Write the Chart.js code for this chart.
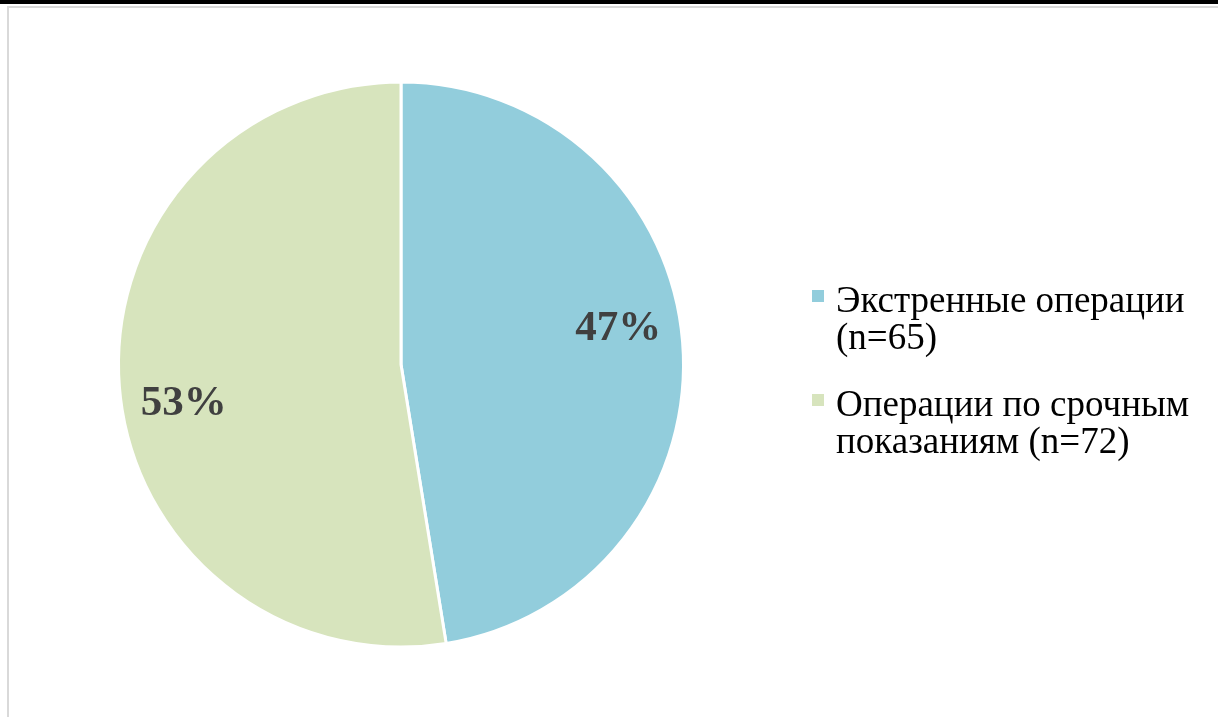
<!DOCTYPE html>
<html lang="ru">
<head>
<meta charset="utf-8">
<title>Операции</title>
<script src="https://cdn.jsdelivr.net/npm/chart.js@4.4.0/dist/chart.umd.min.js"></script>
<style>
  html, body { margin: 0; padding: 0; background: #fff; }
  body { width: 1218px; height: 717px; position: relative; overflow: hidden; }
  .topline { position: absolute; left: 0; top: 0; width: 1218px; height: 4px; background: #000; }
  .frame { position: absolute; left: 7px; top: 6px; right: 0; bottom: 0;
           border-top: 2px solid #d9d9d9; border-left: 2px solid #d9d9d9; }
  .wrap { position: absolute; left: 0; top: 0; width: 1218px; height: 717px; }
</style>
</head>
<body>
<div class="topline"></div>
<div class="frame"></div>
<div class="wrap"><canvas id="pieChart"></canvas></div>
<script>
  // data
  const categories = [
    ["Экстренные операции", "(n=65)"],
    ["Операции по срочным", "показаниям (n=72)"]
  ];
  const counts = [65, 72];
  const colors = ["#92cddc", "#d7e4bd"];

  // percentage labels inside the slices
  const sliceLabels = {
    id: "sliceLabels",
    afterDatasetsDraw(chart) {
      const ctx = chart.ctx;
      const meta = chart.getDatasetMeta(0);
      const total = counts.reduce((a, b) => a + b, 0);
      ctx.save();
      ctx.font = "bold 43px 'Liberation Serif', 'Times New Roman', serif";
      ctx.fillStyle = "#404040";
      ctx.textAlign = "center";
      ctx.textBaseline = "middle";
      meta.data.forEach((arc, i) => {
        const p = arc.getProps(["x", "y", "startAngle", "endAngle", "outerRadius"], true);
        const mid = (p.startAngle + p.endAngle) / 2 - 0.091;
        const r = p.outerRadius * 0.78;
        const txt = Math.round((counts[i] / total) * 100) + "%";
        ctx.fillText(txt, p.x + Math.cos(mid) * r, p.y + Math.sin(mid) * r + 2);
      });
      ctx.restore();
    }
  };

  // legend on the right, two lines per entry
  const sideLegend = {
    id: "sideLegend",
    afterDraw(chart) {
      const ctx = chart.ctx;
      const x0 = 812;
      let y = 312;
      ctx.save();
      ctx.font = "37px 'Liberation Serif', 'Times New Roman', serif";
      ctx.textAlign = "left";
      ctx.textBaseline = "alphabetic";
      categories.forEach((lines, i) => {
        ctx.fillStyle = colors[i];
        ctx.fillRect(x0, y - 22, 12, 12);
        ctx.fillStyle = "#000";
        lines.forEach((line, j) => {
          ctx.fillText(line, x0 + 24, y + j * 37);
        });
        y += 104;
      });
      ctx.restore();
    }
  };

  const ctx = document.getElementById("pieChart");
  const myChart = new Chart(ctx, {
    type: "pie",
    data: {
      labels: categories,
      datasets: [
        {
          data: counts,
          backgroundColor: colors,
          borderColor: "#ffffff",
          borderWidth: 3,
        },
      ],
    },
    options: {
      responsive: true,
      maintainAspectRatio: false,
      animation: false,
      layout: {
        padding: { left: 117, top: 80, right: 533, bottom: 68 },
      },
      plugins: {
        legend: { display: false },
        tooltip: { enabled: false },
      },
    },
    plugins: [sliceLabels, sideLegend],
  });
</script>
</body>
</html>
